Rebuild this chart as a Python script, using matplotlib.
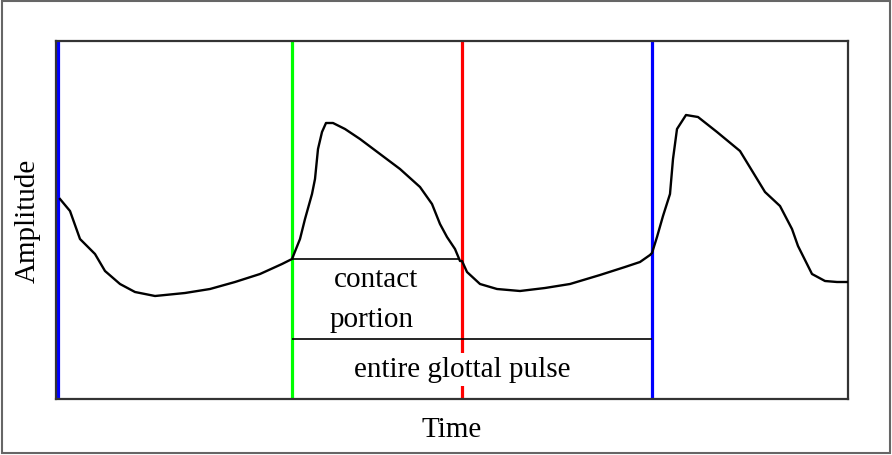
import matplotlib.pyplot as plt
import matplotlib.patches as patches

# waveform (time and amplitude in arbitrary units)
time = [4, 14, 24, 39, 49, 64, 79, 99, 129, 154, 179, 204, 226, 236,
        244, 249, 256, 259, 262, 266, 270, 277, 289, 304, 324, 344, 364,
        376, 384, 391, 399, 404, 406, 411, 424, 441, 464, 489, 514, 544,
        569, 584, 594, 596, 601, 607, 614, 617, 621, 630, 642, 661, 684,
        709, 724, 736, 742, 756, 769, 781, 791]
amp = [200, 188, 160, 145, 128, 115, 107, 103, 106, 110, 117, 125, 135, 140,
       160, 180, 205, 220, 250, 267, 276, 276, 270, 260, 245, 230, 212,
       195, 175, 162, 150, 138, 138, 127, 115, 110, 108, 111, 115, 124,
       132, 137, 144, 146, 162, 183, 205, 240, 270, 284, 282, 267, 248,
       207, 193, 170, 153, 125, 118, 117, 117]

markers = [2, 236, 406, 596]
marker_colors = ['#0000ff', '#00ff00', '#ff0000', '#0000ff']
contact = (236, 404, 140)
pulse = (236, 596, 60)

plt.rcParams['font.family'] = ['Liberation Serif', 'DejaVu Serif']

fig = plt.figure(figsize=(8.92, 4.56), dpi=100)
fig.patches.append(patches.Rectangle((0.002, 0.004), 0.996, 0.992, transform=fig.transFigure,
                                     fill=False, edgecolor='#666666', linewidth=1.5))
ax = fig.add_axes([56 / 892, 1 - 400 / 456, 792 / 892, 358 / 456])

for x, c in zip(markers, marker_colors):
    ax.axvline(x, color=c, linewidth=2.3, zorder=1)
ax.plot(time, amp, color='black', linewidth=1.7, zorder=3)
ax.hlines(contact[2], contact[0], contact[1], color='black', linewidth=1.2, zorder=3)
ax.hlines(pulse[2], pulse[0], pulse[1], color='black', linewidth=1.2, zorder=3)

fs = 21
ax.text(320, 120, 'contact', ha='center', va='center', fontsize=fs)
ax.text(316, 80, 'portion', ha='center', va='center', fontsize=fs)
ax.text(406, 30, 'entire glottal pulse', ha='center', va='center', fontsize=fs, zorder=4,
        bbox=dict(facecolor='white', edgecolor='none', pad=2.5))

ax.set_xlim(0, 792)
ax.set_ylim(0, 358)
ax.set_xticks([])
ax.set_yticks([])
for s in ax.spines.values():
    s.set_linewidth(1.6)
    s.set_color('#333333')
ax.set_xlabel('Time', fontsize=fs, labelpad=12)
ax.set_ylabel('Amplitude', fontsize=fs, labelpad=11)

fig.savefig('out.png', dpi=100)
